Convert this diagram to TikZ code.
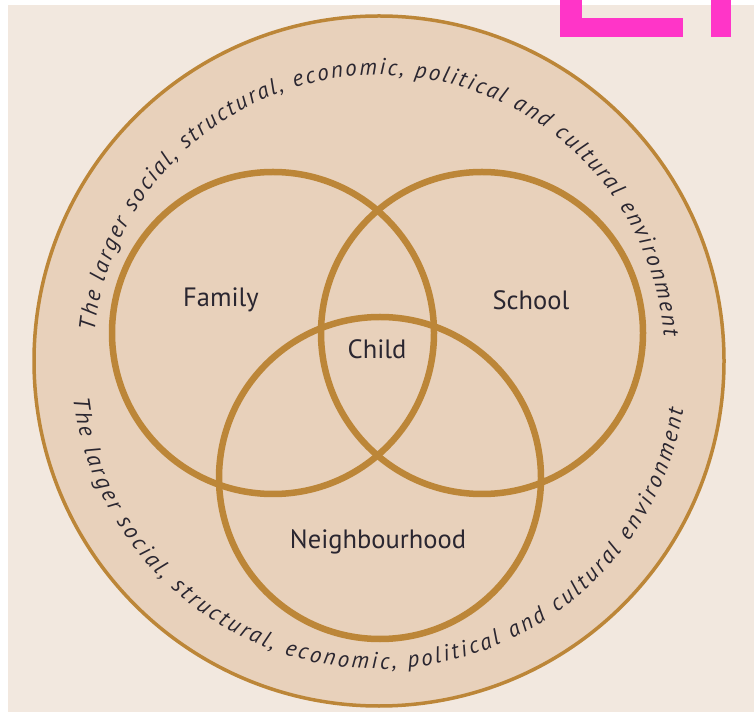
\documentclass[tikz,border=0pt]{standalone}
\usepackage{fontspec}
\setmainfont{PT Sans}
\usetikzlibrary{decorations.text}
\definecolor{bgbeige}{HTML}{F2E8DF}
\definecolor{bandfill}{HTML}{E8D1BB}
\definecolor{ringcol}{HTML}{BC8638}
\definecolor{inkcol}{HTML}{2A2630}
\definecolor{markcol}{HTML}{FF35C8}
\tikzset{
  ring/.style={draw=ringcol, line width=6.5pt},
  outerring/.style={draw=ringcol, fill=bandfill, line width=3.5pt},
  lbl/.style={text=inkcol, font=\fontsize{26.5}{26.5}\selectfont, inner sep=0pt},
  bandtext/.style={decorate, decoration={text along path, text color=inkcol,
     text align={fit to path}, text={#1}}},
  markbox/.style={fill=markcol, draw=none}
}
\begin{document}
\begin{tikzpicture}[x=1pt,y=1pt]
\useasboundingbox (0,0) rectangle (754,712);
\fill[white] (0,0) rectangle (754,712);
\fill[bgbeige] (8,0) rectangle (754,707);
% magenta marks
\fill[markbox] (560,675) rectangle (582,712);
\fill[markbox] (560,675) rectangle (683,694);
\fill[markbox] (711,675) rectangle (731,712);
% centres
\coordinate (O) at (379,351);
\coordinate (F) at (273,379);
\coordinate (S) at (482,379);
\coordinate (N) at (380,234);
% outer band
\draw[outerring] (O) circle[radius=345pt];
% three circles
\draw[ring] (F) circle[radius=161pt];
\draw[ring] (S) circle[radius=161pt];
\draw[ring] (N) circle[radius=161pt];
% labels
\node[lbl] (family) at (221,412) {Family};
\node[lbl] (school) at (531,412) {School};
\node[lbl] (child) at (377,363) {Child};
\node[lbl] (neigh) at (378,170) {Neighbourhood};
% curved texts
\path[bandtext={|\itshape\fontsize{23}{23}\selectfont|The larger social, structural, economic, political and cultural environment}]
  (O) ++(174:286pt) arc[start angle=174, end angle=5, radius=286pt];
\path[bandtext={|\itshape\fontsize{23}{23}\selectfont|The larger social, structural, economic, political and cultural environment}]
  (O) ++(187:308pt) arc[start angle=187, end angle=351, radius=308pt];
\end{tikzpicture}
\end{document}
